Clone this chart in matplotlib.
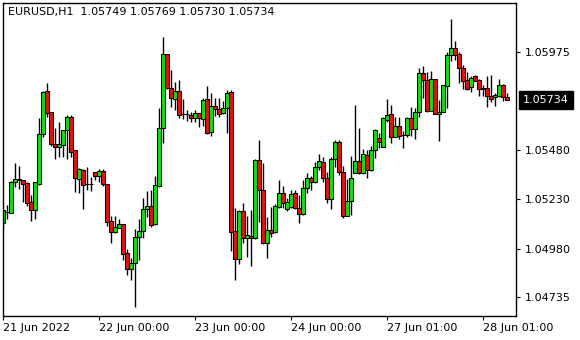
import matplotlib
matplotlib.use("Agg")
import matplotlib.pyplot as plt
import matplotlib.transforms as mtransforms

# ==============================
# EURUSD H1 candles
# ==============================
opens = [
    1.05108, 1.05164, 1.05162, 1.05316, 1.05332, 1.05326, 1.05312, 1.05216, 1.05174, 1.05307,
    1.05559, 1.05778, 1.05670, 1.05508, 1.05493, 1.05503, 1.05579, 1.05645, 1.05478, 1.05331,
    1.05376, 1.05306, 1.05307, 1.05366, 1.05349, 1.05373, 1.05306, 1.05120, 1.05066, 1.05086,
    1.05105, 1.04956, 1.04875, 1.04906, 1.05040, 1.05068, 1.05182, 1.05194, 1.05103, 1.05298,
    1.05589, 1.05963, 1.05791, 1.05737, 1.05778, 1.05660, 1.05661, 1.05656, 1.05643, 1.05665,
    1.05634, 1.05736, 1.05568, 1.05702, 1.05687, 1.05665, 1.05690, 1.05773, 1.05069, 1.04926,
    1.05170, 1.05035, 1.05044, 1.05032, 1.05429, 1.05277, 1.05010, 1.05074, 1.05063, 1.05189,
    1.05260, 1.05179, 1.05192, 1.05260, 1.05184, 1.05157, 1.05285, 1.05336, 1.05316, 1.05392,
    1.05417, 1.05336, 1.05230, 1.05434, 1.05521, 1.05366, 1.05147, 1.05223, 1.05364, 1.05423,
    1.05364, 1.05454, 1.05378, 1.05479, 1.05540, 1.05496, 1.05633, 1.05660, 1.05546, 1.05601,
    1.05554, 1.05555, 1.05640, 1.05583, 1.05670, 1.05870, 1.05833, 1.05678, 1.05837, 1.05660,
    1.05670, 1.05805, 1.05960, 1.05994, 1.05965, 1.05893, 1.05833, 1.05796, 1.05854, 1.05833,
    1.05789, 1.05791, 1.05752, 1.05746, 1.05752, 1.05808, 1.05749,
]
highs = [
    1.05179, 1.05201, 1.05322, 1.05413, 1.05397, 1.05327, 1.05319, 1.05250, 1.05317, 1.05640,
    1.05779, 1.05818, 1.05671, 1.05589, 1.05619, 1.05580, 1.05656, 1.05656, 1.05479, 1.05390,
    1.05383, 1.05395, 1.05344, 1.05367, 1.05381, 1.05381, 1.05307, 1.05145, 1.05145, 1.05132,
    1.05106, 1.04980, 1.04931, 1.05078, 1.05130, 1.05235, 1.05273, 1.05277, 1.05348, 1.05690,
    1.06052, 1.05964, 1.05884, 1.05825, 1.05833, 1.05737, 1.05682, 1.05673, 1.05682, 1.05666,
    1.05741, 1.05803, 1.05766, 1.05742, 1.05740, 1.05725, 1.05783, 1.05783, 1.05184, 1.05176,
    1.05211, 1.05145, 1.05176, 1.05432, 1.05530, 1.05412, 1.05142, 1.05192, 1.05206, 1.05327,
    1.05297, 1.05235, 1.05277, 1.05277, 1.05251, 1.05327, 1.05361, 1.05348, 1.05420, 1.05459,
    1.05445, 1.05366, 1.05445, 1.05530, 1.05530, 1.05398, 1.05331, 1.05449, 1.05707, 1.05592,
    1.05483, 1.05479, 1.05499, 1.05585, 1.05565, 1.05644, 1.05737, 1.05707, 1.05648, 1.05648,
    1.05575, 1.05648, 1.05695, 1.05692, 1.05894, 1.05904, 1.05876, 1.05879, 1.05838, 1.05732,
    1.05809, 1.05977, 1.06142, 1.06033, 1.05977, 1.05909, 1.05875, 1.05854, 1.05859, 1.05837,
    1.05808, 1.05854, 1.05859, 1.05766, 1.05838, 1.05813, 1.05769,
]
lows = [
    1.05078, 1.05128, 1.05159, 1.05290, 1.05282, 1.05218, 1.05196, 1.05121, 1.05130, 1.05303,
    1.05546, 1.05646, 1.05499, 1.05432, 1.05445, 1.05445, 1.05432, 1.05445, 1.05268, 1.05260,
    1.05179, 1.05277, 1.05273, 1.05327, 1.05319, 1.05297, 1.05095, 1.05010, 1.05058, 1.05085,
    1.04923, 1.04847, 1.04821, 1.04683, 1.04923, 1.05035, 1.05142, 1.05091, 1.05100, 1.05293,
    1.05513, 1.05790, 1.05695, 1.05682, 1.05643, 1.05634, 1.05626, 1.05623, 1.05621, 1.05597,
    1.05601, 1.05558, 1.05550, 1.05651, 1.05644, 1.05661, 1.05567, 1.04970, 1.04819, 1.04902,
    1.05010, 1.04939, 1.04892, 1.05029, 1.05116, 1.05004, 1.04931, 1.05040, 1.05059, 1.05184,
    1.05187, 1.05172, 1.05184, 1.05181, 1.05111, 1.05150, 1.05263, 1.05277, 1.05314, 1.05378,
    1.05319, 1.05212, 1.05182, 1.05392, 1.05353, 1.05134, 1.05145, 1.05150, 1.05363, 1.05356,
    1.05356, 1.05336, 1.05375, 1.05440, 1.05489, 1.05494, 1.05622, 1.05513, 1.05545, 1.05535,
    1.05491, 1.05546, 1.05550, 1.05533, 1.05646, 1.05744, 1.05671, 1.05676, 1.05659, 1.05526,
    1.05669, 1.05690, 1.05932, 1.05935, 1.05817, 1.05786, 1.05785, 1.05771, 1.05828, 1.05752,
    1.05752, 1.05698, 1.05724, 1.05702, 1.05749, 1.05729, 1.05730,
]
closes = [
    1.05174, 1.05167, 1.05316, 1.05332, 1.05326, 1.05309, 1.05212, 1.05177, 1.05316, 1.05559,
    1.05773, 1.05668, 1.05511, 1.05493, 1.05508, 1.05579, 1.05646, 1.05470, 1.05336, 1.05383,
    1.05302, 1.05307, 1.05309, 1.05349, 1.05374, 1.05306, 1.05116, 1.05066, 1.05088, 1.05103,
    1.04954, 1.04875, 1.04906, 1.05037, 1.05068, 1.05179, 1.05194, 1.05100, 1.05302, 1.05589,
    1.05963, 1.05791, 1.05741, 1.05778, 1.05656, 1.05661, 1.05660, 1.05643, 1.05665, 1.05640,
    1.05732, 1.05567, 1.05702, 1.05685, 1.05663, 1.05690, 1.05768, 1.05066, 1.04929, 1.05170,
    1.05035, 1.05049, 1.05032, 1.05429, 1.05277, 1.05007, 1.05074, 1.05061, 1.05197, 1.05260,
    1.05209, 1.05214, 1.05256, 1.05187, 1.05157, 1.05285, 1.05336, 1.05319, 1.05392, 1.05423,
    1.05336, 1.05230, 1.05434, 1.05520, 1.05366, 1.05147, 1.05221, 1.05336, 1.05423, 1.05364,
    1.05459, 1.05378, 1.05479, 1.05580, 1.05521, 1.05640, 1.05656, 1.05546, 1.05601, 1.05550,
    1.05555, 1.05643, 1.05583, 1.05670, 1.05870, 1.05833, 1.05678, 1.05837, 1.05660, 1.05671,
    1.05808, 1.05960, 1.05994, 1.05962, 1.05893, 1.05830, 1.05786, 1.05845, 1.05830, 1.05786,
    1.05791, 1.05754, 1.05737, 1.05757, 1.05808, 1.05746, 1.05734,
]

symbol = "EURUSD,H1"
time_tick_pos = [0, 24, 48, 72, 96, 120]
time_tick_labels = ["21 Jun 2022", "22 Jun 00:00", "23 Jun 00:00",
                    "24 Jun 00:00", "27 Jun 01:00", "28 Jun 01:00"]
price_ticks = [1.05975, 1.05480, 1.05230, 1.04980, 1.04735]

# ==============================
# Figure
# ==============================
fig = plt.figure(figsize=(5.8, 3.4), dpi=100)
ax = fig.add_axes([2.5 / 580, 24 / 340, 513.5 / 580, 313.3 / 340])

bull = "#14dc14"
bear = "#dc1414"

x = list(range(len(opens)))
ax.vlines(x, lows, highs, color="black", linewidth=1.0, zorder=1)

bottoms = [min(o, c) for o, c in zip(opens, closes)]
heights = [abs(c - o) for o, c in zip(opens, closes)]
colors = [bull if c >= o else bear for o, c in zip(opens, closes)]
ax.bar(x, heights, bottom=bottoms, width=0.8, color=colors,
       edgecolor="black", linewidth=0.75, zorder=2)

ax.set_xlim(-0.12, 128.25)
ax.set_ylim(1.046392, 1.062245)

# ==============================
# Axes styling (terminal look)
# ==============================
for sp in ax.spines.values():
    sp.set_color("black")
    sp.set_linewidth(1.0)

ax.yaxis.tick_right()
ax.set_yticks(price_ticks)
ax.set_yticklabels([f"{p:.5f}" for p in price_ticks], fontsize=8)
ax.tick_params(axis="y", direction="out", length=3, width=0.8, pad=3)

ax.set_xticks(time_tick_pos)
ax.set_xticklabels(time_tick_labels, fontsize=8, ha="left")
ax.tick_params(axis="x", direction="out", length=3, width=0.8, pad=2)

# header with last bar OHLC
header = f"{symbol}  {opens[-1]:.5f} {highs[-1]:.5f} {lows[-1]:.5f} {closes[-1]:.5f}"
ax.annotate(header, xy=(0, 1), xycoords="axes fraction", xytext=(5, -9),
            textcoords="offset pixels", fontsize=8, ha="left", va="center")

# current price label on the price scale
trans = mtransforms.blended_transform_factory(ax.transAxes, ax.transData)
ax.annotate(f"{closes[-1]:.5f}", xy=(1, closes[-1]), xycoords=trans,
            xytext=(7, 0), textcoords="offset pixels", fontsize=8,
            color="white", ha="left", va="center",
            bbox=dict(boxstyle="square,pad=0.35", fc="black", ec="black"))

fig.savefig("out.png", dpi=100)
